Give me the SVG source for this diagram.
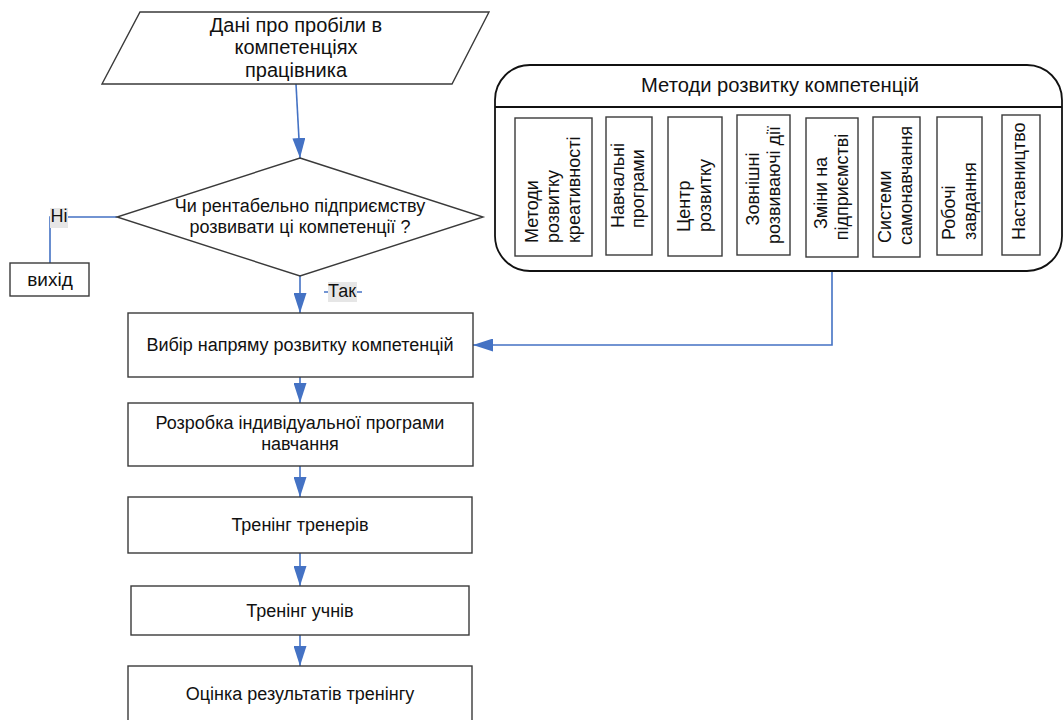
<svg xmlns="http://www.w3.org/2000/svg" width="1063" height="720" viewBox="0 0 1063 720">
<defs>
<marker id="ah" viewBox="0 0 20 13" refX="20" refY="6.5" markerWidth="20" markerHeight="13" markerUnits="userSpaceOnUse" orient="auto">
<path d="M0,0 L20,6.5 L0,13 Z" fill="#4472C4"/>
</marker>
<style>
.shape{fill:#fff;stroke:#3a3a3a;stroke-width:1.4}
.t{font-family:"Liberation Sans",Arial,sans-serif;fill:#111;text-anchor:middle}
.m{font-size:18px}
.r{font-family:"Liberation Sans",Arial,sans-serif;fill:#111;font-size:18px}
.c{fill:none;stroke:#4472C4;stroke-width:1.6}
.lbl{fill:#e6e6e6}
</style>
</defs>
<rect width="1063" height="720" fill="#fff"/>

<g id="connectors">
<path class="c" d="M296,84 L300,158" marker-end="url(#ah)"/>
<path class="c" d="M117,217 H50 V263"/>
<path class="c" d="M300,276 V313" marker-end="url(#ah)"/>
<path class="c" d="M324,292 H362"/>
<path class="c" d="M300,377 V403" marker-end="url(#ah)"/>
<path class="c" d="M300,466 V497" marker-end="url(#ah)"/>
<path class="c" d="M300,553 V586" marker-end="url(#ah)"/>
<path class="c" d="M300,635 V666" marker-end="url(#ah)"/>
<path class="c" d="M832,257 V345 H473" marker-end="url(#ah)"/>
</g>

<g id="labels">
<rect class="lbl" x="50" y="208" width="18" height="20"/>
<text class="t m" x="59" y="222">Ні</text>
<rect class="lbl" x="328" y="282" width="29" height="20"/>
<text class="t m" x="342" y="297">Так</text>
</g>

<g id="input">
<path class="shape" d="M140,12 H489 L452,84 H102 Z"/>
<text class="t" font-size="20" x="296" y="32">Дані про пробіли в</text>
<text class="t" font-size="20" x="296" y="54">компетенціях</text>
<text class="t" font-size="20" x="296" y="77">працівника</text>
</g>

<g id="decision">
<path class="shape" d="M300,158 L483,217 L300,276 L117,217 Z"/>
<text class="t m" x="300" y="212">Чи рентабельно підприємству</text>
<text class="t m" x="300" y="233">розвивати ці компетенції ?</text>
</g>

<g id="exit">
<rect class="shape" x="10" y="263" width="79" height="33"/>
<text class="t" font-size="19" x="50" y="286">вихід</text>
</g>

<g id="step1">
<rect class="shape" x="128" y="313" width="345" height="64"/>
<text class="t m" x="300" y="351">Вибір напряму розвитку компетенцій</text>
</g>
<g id="step2">
<rect class="shape" x="128" y="403" width="345" height="63"/>
<text class="t m" x="300" y="429">Розробка індивідуальної програми</text>
<text class="t m" x="300" y="450">навчання</text>
</g>
<g id="step3">
<rect class="shape" x="128" y="497" width="344" height="56"/>
<text class="t m" x="300" y="531">Тренінг тренерів</text>
</g>
<g id="step4">
<rect class="shape" x="131" y="586" width="338" height="49"/>
<text class="t m" x="300" y="617">Тренінг учнів</text>
</g>
<g id="step5">
<rect class="shape" x="128" y="666" width="344" height="60"/>
<text class="t m" x="300" y="700">Оцінка результатів тренінгу</text>
</g>

<g id="methods">
<rect x="495" y="65" width="567" height="206" rx="35" ry="35" fill="#fff" stroke="#111" stroke-width="1.8"/>
<line x1="495" y1="107" x2="1062" y2="107" stroke="#111" stroke-width="2"/>
<text class="t" font-size="20.2" x="780" y="92">Методи розвитку компетенцій</text>
</g>

<g id="m1">
<rect class="shape" x="515" y="118" width="77" height="138"/>
<text class="r" transform="rotate(-90)"><tspan x="-243" y="538">Методи</tspan><tspan x="-243" y="559">розвитку</tspan><tspan x="-243" y="580">креативності</tspan></text>
</g>
<g id="m2">
<rect class="shape" x="606" y="117" width="46" height="138"/>
<text class="r" transform="rotate(-90)"><tspan x="-228" y="623.5">Навчальні</tspan><tspan x="-228" y="643.5">програми</tspan></text>
</g>
<g id="m3">
<rect class="shape" x="668" y="117" width="54" height="139"/>
<text class="r" transform="rotate(-90)"><tspan x="-232" y="690">Центр</tspan><tspan x="-232" y="710.5">розвитку</tspan></text>
</g>
<g id="m4">
<rect class="shape" x="737" y="115" width="53" height="140"/>
<text class="r" transform="rotate(-90)" text-anchor="middle"><tspan x="-189" y="758.5">Зовнішні</tspan><tspan x="-185" y="779.5">розвиваючі дії</tspan></text>
</g>
<g id="m5">
<rect class="shape" x="806" y="118" width="52" height="139"/>
<text class="r" transform="rotate(-90)" text-anchor="middle"><tspan x="-193" y="826.5">Зміни на</tspan><tspan x="-187" y="847.5">підприємстві</tspan></text>
</g>
<g id="m6">
<rect class="shape" x="873" y="117" width="47" height="140"/>
<text class="r" transform="rotate(-90)"><tspan x="-243" y="890.5">Системи</tspan><tspan x="-245" y="911.5">самонавчання</tspan></text>
</g>
<g id="m7">
<rect class="shape" x="937" y="117" width="45" height="138"/>
<text class="r" transform="rotate(-90)"><tspan x="-240" y="954.5">Робочі</tspan><tspan x="-240" y="975.5">завдання</tspan></text>
</g>
<g id="m8">
<rect class="shape" x="1002" y="115" width="38" height="140"/>
<text class="r" transform="rotate(-90)"><tspan x="-240" y="1025">Наставництво</tspan></text>
</g>
</svg>
